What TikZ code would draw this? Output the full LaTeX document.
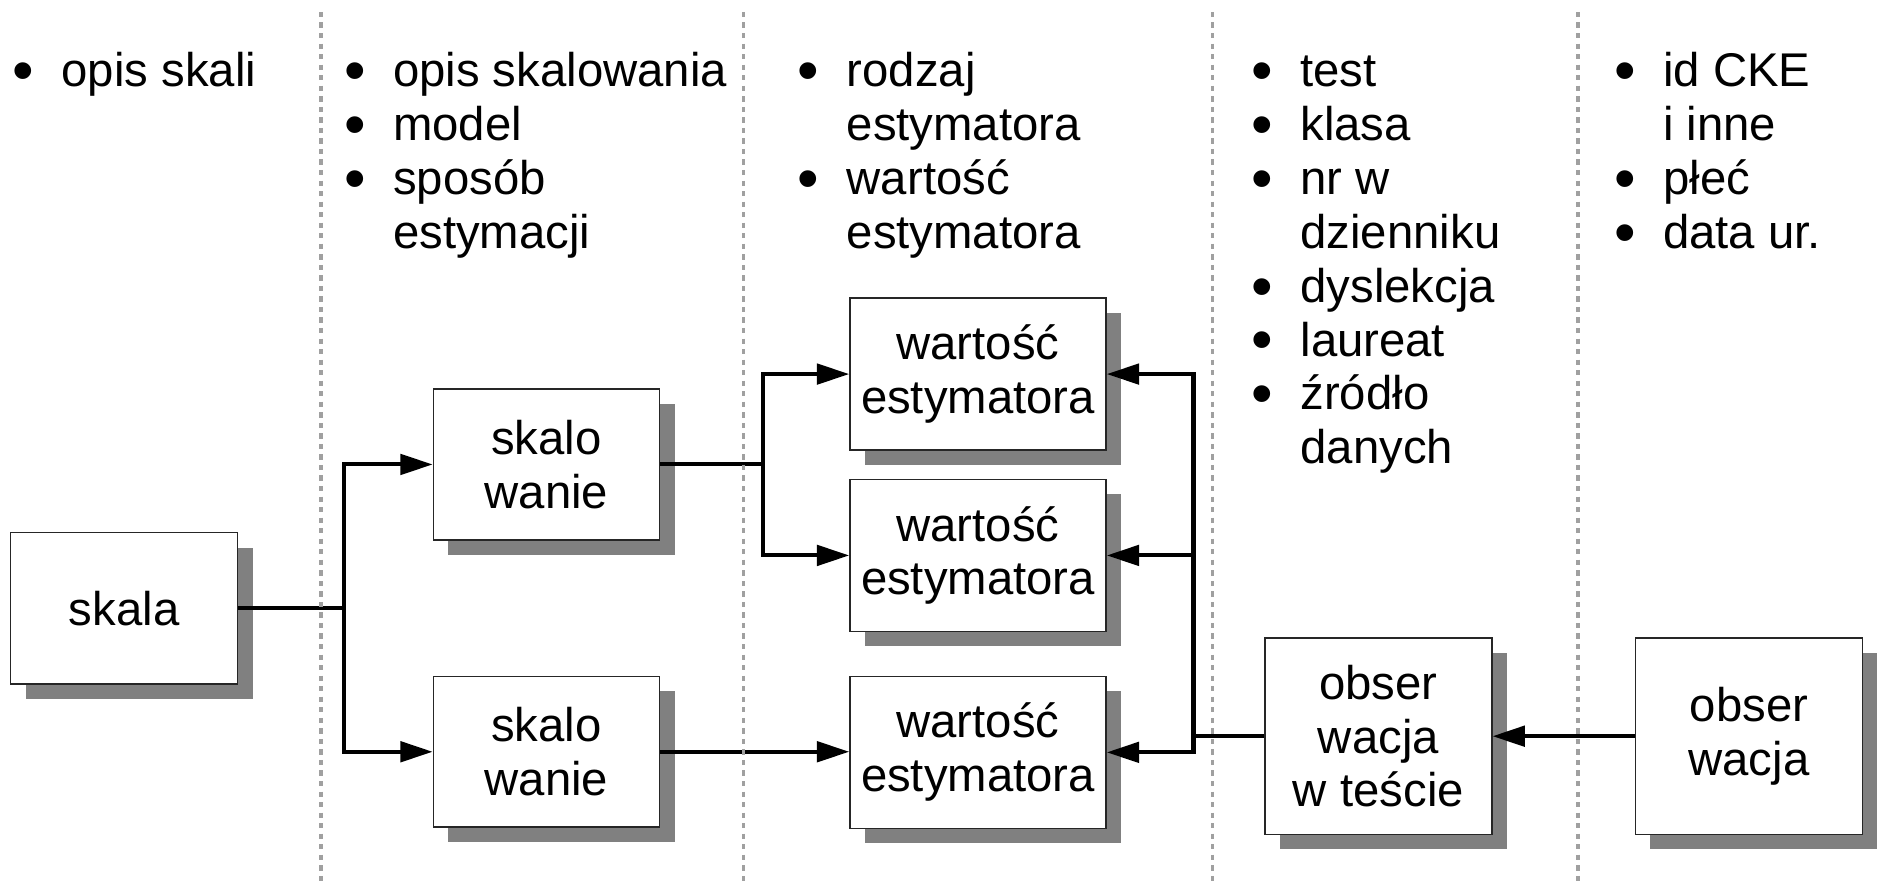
\documentclass[tikz,border=0pt]{standalone}
\usepackage{fontspec}
\setmainfont{Liberation Sans}
\usetikzlibrary{arrows.meta,shadows}
\definecolor{shgray}{RGB}{128,128,128}
\definecolor{dashgray}{RGB}{160,160,160}
\begin{document}
\begin{tikzpicture}[x=0.5pt,y=-0.5pt,
  txt/.style={font=\fontsize{19.76pt}{22.5pt}\selectfont},
  box/.style={txt,draw=black!85,line width=0.6pt,fill=white,align=center,inner sep=0pt,
    drop shadow={shadow xshift=6.25pt,shadow yshift=-6.25pt,fill=shgray,opacity=1}},
  small/.style={box,minimum width=94.5pt,minimum height=63pt},
  wide/.style={box,minimum width=107pt,minimum height=63.5pt},
  tall/.style={box,minimum width=94.75pt,minimum height=82pt},
  lst/.style={txt,anchor=base west,inner sep=0pt},
  conn/.style={line width=1.7pt},
  arr/.style={conn,-{Triangle[length=13.5pt,width=8.5pt]}},
  sep/.style={dashgray,line width=1.5pt,dash pattern=on 2.2pt off 2.2pt}
]
\useasboundingbox (0,0) rectangle (1568,737);

% bullet lists
\newcommand{\bl}{\hspace*{-0.05em}\raisebox{-0.105em}{\scalebox{1.3}{\textbullet}}}
\node[lst] (l1) at (12,72.4) {\begin{tabular}[t]{@{}p{19.5pt}@{}l@{}}\bl & opis skali\end{tabular}};
\node[lst] (l2) at (289,72.4) {\begin{tabular}[t]{@{}p{19.5pt}@{}l@{}}\bl & opis skalowania\\ \bl & model\\ \bl & sposób\\ & estymacji\end{tabular}};
\node[lst] (l3) at (668,72.4) {\begin{tabular}[t]{@{}p{19.5pt}@{}l@{}}\bl & rodzaj\\ & estymatora\\ \bl & wartość\\ & estymatora\end{tabular}};
\node[lst] (l4) at (1047,72.4) {\begin{tabular}[t]{@{}p{19.5pt}@{}l@{}}\bl & test\\ \bl & klasa\\ \bl & nr w\\ & dzienniku\\ \bl & dyslekcja\\ \bl & laureat\\ \bl & źródło\\ & danych\end{tabular}};
\node[lst] (l5) at (1350,72.4) {\begin{tabular}[t]{@{}p{19.5pt}@{}l@{}}\bl & id CKE\\ & i inne\\ \bl & płeć\\ \bl & data ur.\end{tabular}};

% boxes
\node[small,minimum width=94.85pt,minimum height=63.2pt] (skala) at (103.75,508.2) {skala};
\node[small] (sk1) at (456.5,388) {skalo\\wanie};
\node[small] (sk2) at (456.5,628) {skalo\\wanie};
\node[wide] (w1) at (817,312.5) {wartość\\estymatora};
\node[wide] (w2) at (817,464) {wartość\\estymatora};
\node[wide] (w3) at (817,628.5) {wartość\\estymatora};
\node[tall] (ob1) at (1151.5,615) {obser\\wacja\\w teście};
\node[tall] (ob2) at (1461,615) {obser\\wacja};

% junctions
\coordinate (j1) at (287,0);
\coordinate (j2) at (637,0);
\coordinate (j3) at (997,0);

% connectors
\draw[conn] (skala.east) -- (skala.east -| j1);
\draw[arr] (skala.east -| j1) |- (sk1.west);
\draw[arr] (skala.east -| j1) |- (sk2.west);
\draw[conn] (sk1.east) -- (sk1.east -| j2);
\draw[arr] (sk1.east -| j2) |- (w1.west);
\draw[arr] (sk1.east -| j2) |- (w2.west);
\draw[arr] (sk2.east) -- (sk2.east -| w3.west);
\draw[conn] (ob1.west) -- (ob1.west -| j3);
\draw[arr] (ob1.west -| j3) |- (w1.east);
\draw[arr] (ob1.west -| j3) |- (w2.east);
\draw[arr] (ob1.west -| j3) |- (w3.east);
\draw[arr] (ob2.west) -- (ob1.east);

% separators
\coordinate (s1t) at (268,10); \coordinate (s1b) at (268,737);
\coordinate (s2t) at (621,10); \coordinate (s2b) at (621,737);
\coordinate (s3t) at (1013,10); \coordinate (s3b) at (1013,737);
\coordinate (s4t) at (1318,10); \coordinate (s4b) at (1318,737);
\draw[sep] (s1t) -- (s1b);
\draw[sep] (s2t) -- (s2b);
\draw[sep] (s3t) -- (s3b);
\draw[sep] (s4t) -- (s4b);
\end{tikzpicture}
\end{document}
